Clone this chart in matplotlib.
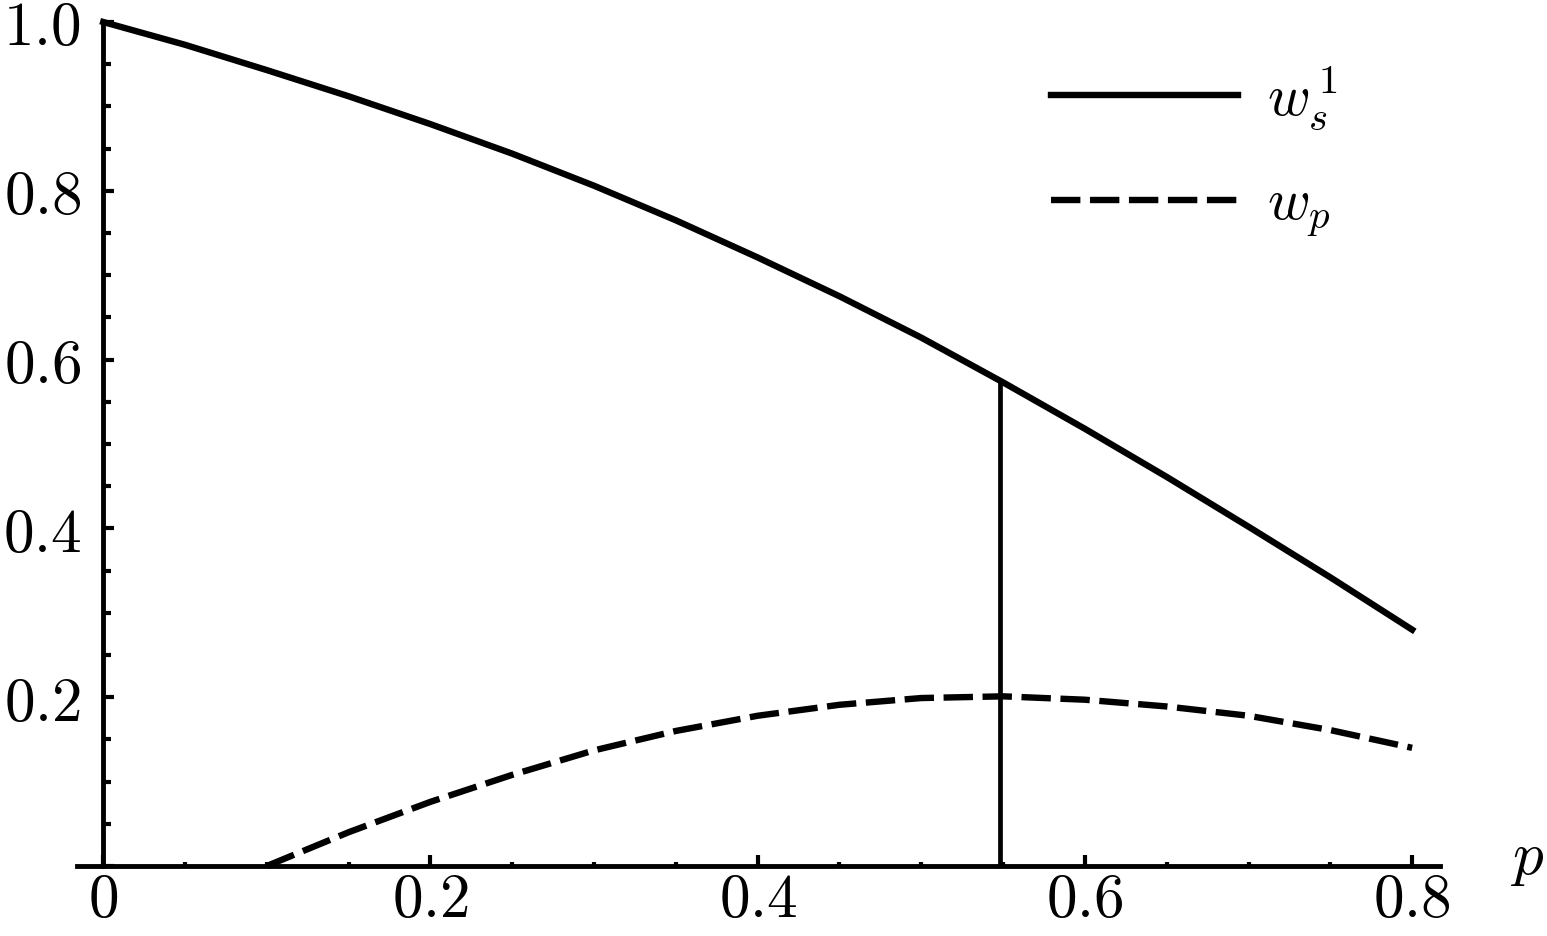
import matplotlib.pyplot as plt
from matplotlib.ticker import MultipleLocator, FuncFormatter

plt.rcParams['mathtext.fontset'] = 'cm'
plt.rcParams['font.family'] = 'serif'
plt.rcParams['font.serif'] = ['DejaVu Serif']

# values
p_s = [0.0, 0.05, 0.1, 0.15, 0.2, 0.25, 0.3, 0.35, 0.4, 0.45, 0.5, 0.55, 0.6, 0.65, 0.7, 0.75, 0.8]
w_s = [1.0, 0.973, 0.943, 0.912, 0.879, 0.844, 0.806, 0.765, 0.721, 0.675, 0.626, 0.573,
       0.518, 0.461, 0.402, 0.342, 0.28]

p_p = [0.1, 0.15, 0.2, 0.25, 0.3, 0.35, 0.4, 0.45, 0.5, 0.55, 0.6, 0.65, 0.7, 0.75, 0.8]
w_p = [0.0, 0.04, 0.076, 0.108, 0.137, 0.16, 0.178, 0.191, 0.199, 0.201, 0.197, 0.189,
       0.178, 0.161, 0.14]

p_cut = 0.548
w_cut = 0.575

fig = plt.figure(figsize=(15.47, 9.36), dpi=100)
ax = fig.add_axes([0.0498, 0.0748, 0.881, 0.9017])

ax.plot(p_s, w_s, color='black', lw=4.6, clip_on=False, label=r'$w_{s}^{\,1}$')
ax.plot(p_p, w_p, color='black', lw=4.6, dashes=(4.6, 1.5), clip_on=False, label=r'$w_{p}$')
ax.plot([p_cut, p_cut], [0, w_cut], color='black', lw=3.4)

ax.set_xlim(-0.016, 0.817)
ax.set_ylim(0, 1.0)

ax.spines['left'].set_position(('data', 0))
ax.spines['top'].set_visible(False)
ax.spines['right'].set_visible(False)
ax.spines['left'].set_linewidth(3.5)
ax.spines['bottom'].set_linewidth(3.5)

ax.xaxis.set_major_locator(MultipleLocator(0.2))
ax.xaxis.set_minor_locator(MultipleLocator(0.05))
ax.yaxis.set_major_locator(MultipleLocator(0.2))
ax.yaxis.set_minor_locator(MultipleLocator(0.05))

def xfmt(v, pos):
    return '$0$' if abs(v) < 1e-9 else '$%.1f$' % v

def yfmt(v, pos):
    return '' if abs(v) < 1e-9 else '$%.1f$' % v

ax.xaxis.set_major_formatter(FuncFormatter(xfmt))
ax.yaxis.set_major_formatter(FuncFormatter(yfmt))

ax.tick_params(axis='both', which='major', direction='in', width=3, labelsize=44)
ax.tick_params(axis='x', which='major', length=8, pad=3)
ax.tick_params(axis='x', which='minor', direction='in', length=3, width=3)
ax.tick_params(axis='y', which='major', length=8, pad=16)
ax.tick_params(axis='y', which='minor', direction='in', length=6, width=3)

ax.annotate(r'$p$', xy=(1.064, 0.01), xycoords='axes fraction', fontsize=44,
            ha='center', va='center')

ax.legend(loc='upper left', bbox_to_anchor=(0.676, 1.012), frameon=False, fontsize=42,
          handlelength=3.2, handletextpad=0.5, labelspacing=0.75)

plt.savefig('out.png', dpi=100)
